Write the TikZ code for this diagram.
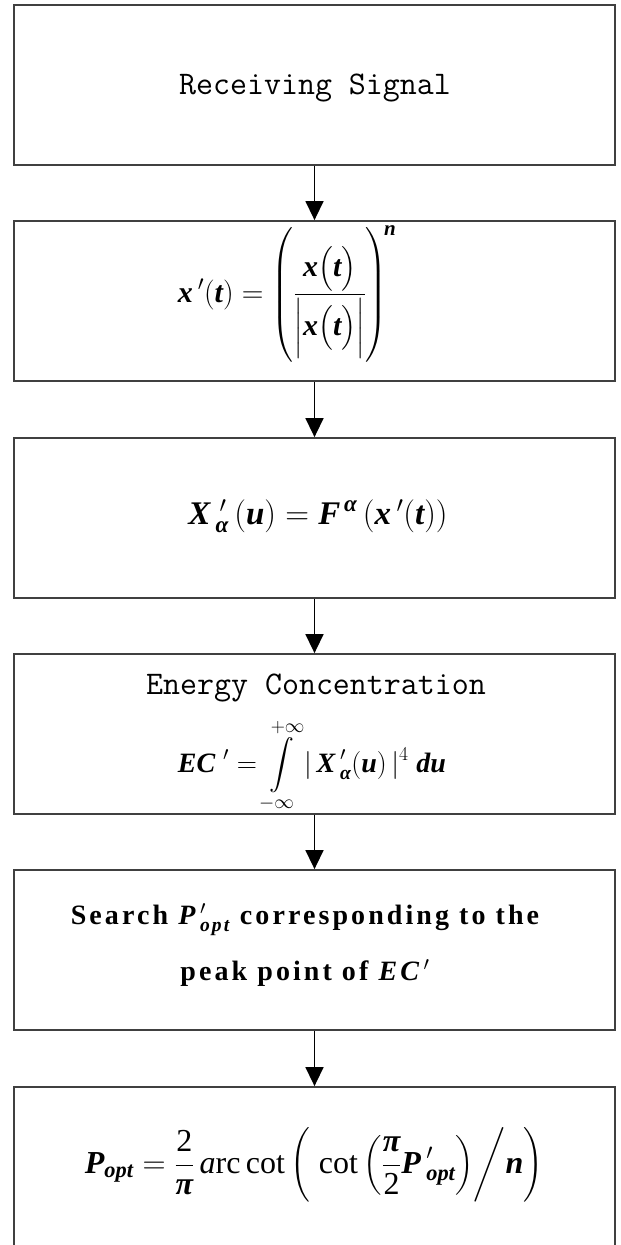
\RequirePackage{fix-cm}
\documentclass[tikz,border=0pt]{standalone}
\usepackage{amsmath}
\usepackage{fontspec}
\setmainfont{Liberation Serif}
\usetikzlibrary{arrows.meta}
\newcommand\bi[1]{\text{\bfseries\itshape #1}}
\newcommand\rmt[1]{\text{\normalfont #1}}
\tikzset{
  box/.style={draw=black!75, line width=1.8pt, minimum width=601pt, minimum height=160pt, inner sep=0pt},
  arr/.style={-{Triangle[width=18pt,length=19pt]}, line width=1.5pt, black},
  mono/.style={font=\ttfamily\fontsize{33}{36}\selectfont, inner sep=0pt},
  fml/.style={font=\fontsize{#1}{#1}\selectfont, inner sep=0pt},
}
\begin{document}
\begin{tikzpicture}[x=1pt,y=-1pt]
\useasboundingbox (0,0) rectangle (621,1245);
\node[box] (b1) at (314.5,85) {};
\node[box] (b2) at (314.5,301) {};
\node[box] (b3) at (314.5,518) {};
\node[box] (b4) at (314.5,734) {};
\node[box] (b5) at (314.5,950) {};
\node[box] (b6) at (314.5,1167) {};
\draw[arr] (b1.south) -- (b2.north);
\draw[arr] (b2.south) -- (b3.north);
\draw[arr] (b3.south) -- (b4.north);
\draw[arr] (b4.south) -- (b5.north);
\draw[arr] (b5.south) -- (b6.north);
\node[mono] (t1) at (315,88) {Receiving Signal};
\node[fml=30] (t2) at (287,294) {$\displaystyle \bi{x}\,'\!\left(\bi{t}\right) = \left(\frac{\bi{x}\big(\bi{t}\big)}{\Big|\bi{x}\big(\bi{t}\big)\Big|}\right)^{\!\bi{n}}$};
\node[fml=33] (t3) at (318,516) {$\bi{X}\;'_{\!\bi{α}}\,(\bi{u}) = \bi{F}^{\,\bi{α}}\,(\bi{x}\,'(\bi{t}))$};
\node[mono] (t4a) at (316,688) {Energy Concentration};
\node[fml=28] (t4b) at (312,766) {$\displaystyle \bi{EC}\;'= \int\limits_{-\infty}^{+\infty}|\,\bi{X}\,'_{\bi{α}}(\bi{u})\,|^{4}\;\bi{du}$};
\node[align=center, inner sep=0pt, font=\bfseries\addfontfeature{LetterSpace=11}\fontsize{28}{56}\selectfont] (t5) at (305,945) {Search $\bi{P}\,'_{\bi{opt}}$ corresponding to the\\peak point of $\bi{EC}\,'$};
\node[fml=32] (t6) at (314,1165) {$\displaystyle \bi{P}_{\bi{opt}} = \frac{\rmt{2}}{\bi{π}}\,\rmt{\itshape a}\rmt{rc}\,\rmt{cot}\left(\;\rmt{cot}\left(\frac{\bi{π}}{\rmt{2}}\bi{P}\,'_{\bi{opt}}\right)\!\bigg/\bi{n}\right)$};
\end{tikzpicture}
\end{document}
